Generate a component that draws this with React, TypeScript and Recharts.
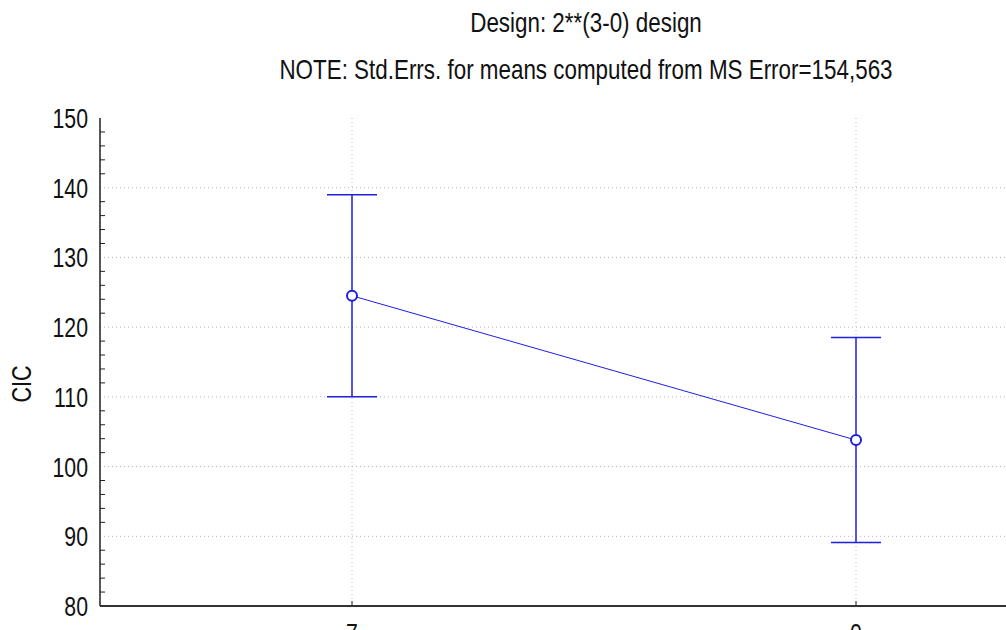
import { ComposedChart, Line, XAxis, YAxis, CartesianGrid, ErrorBar } from "recharts";

// factor levels and means
const LEVELS = ["7", "0"];
const MEANS = [124.5, 103.8];
const HALF_CI = [14.5, 14.7];
const Y_TICKS = [80, 82, 84, 86, 88, 90, 92, 94, 96, 98, 100, 102, 104, 106, 108, 110, 112, 114, 116, 118, 120, 122, 124, 126, 128, 130, 132, 134, 136, 138, 140, 142, 144, 146, 148, 150];
const Y_GRID = [90, 100, 110, 120, 130, 140];

const BLUE = "#1f1fe0";
const FONT = "'Liberation Sans', Arial, sans-serif";

const data = LEVELS.map((level, i) => ({
  level,
  mean: MEANS[i],
  err: HALF_CI[i],
}));

function YTick(props: any) {
  const { x, y, payload } = props;
  const major = payload.value % 10 === 0;
  return (
    <g>
      <line x1={x} x2={x + (major ? 0 : 5)} y1={y} y2={y} stroke="#222" strokeWidth={1} />
      {major && (
        <text
          transform={`translate(${x - 12},${y + 10}) scale(0.76,1)`}
          textAnchor="end"
          fontSize={28}
          fontFamily={FONT}
          fill="#111"
        >
          {payload.value}
        </text>
      )}
    </g>
  );
}

function XTick(props: any) {
  const { x, y, payload } = props;
  return (
    <g>
      <line x1={x} x2={x} y1={y} y2={y - 5} stroke="#222" strokeWidth={1} />
      <text
        transform={`translate(${x},${y + 37}) scale(0.76,1)`}
        textAnchor="middle"
        fontSize={28}
        fontFamily={FONT}
        fill="#111"
      >
        {payload.value}
      </text>
    </g>
  );
}

function TopTick(props: any) {
  const { x, y } = props;
  return <line x1={x} x2={x} y1={y} y2={y + 5} stroke="#222" strokeWidth={1} />;
}

export default function App() {
  return (
    <div
      style={{
        position: "absolute",
        left: 0,
        top: 0,
        width: 1006,
        height: 630,
        overflow: "hidden",
        background: "#fff",
      }}
    >
      <ComposedChart
        width={1110}
        height={660}
        data={data}
        margin={{ top: 118, right: 2, bottom: 14, left: 0 }}
      >
        <CartesianGrid
          stroke="#b4b4c8"
          strokeDasharray="1 3"
          horizontalValues={Y_GRID}
        />
        <XAxis
          dataKey="level"
          scale="band"
          height={40}
          axisLine={{ stroke: "#333", strokeWidth: 2 }}
          tickLine={false}
          tickSize={0}
          tickMargin={0}
          tick={<XTick />}
          interval={0}
        />
        <XAxis
          xAxisId="top"
          orientation="top"
          dataKey="level"
          scale="band"
          height={0}
          axisLine={{ stroke: "#333", strokeWidth: 2.5 }}
          tickLine={false}
          tickSize={0}
          tickMargin={0}
          tick={<TopTick />}
          interval={0}
        />
        <YAxis
          type="number"
          domain={[80, 150]}
          ticks={Y_TICKS}
          interval={0}
          width={100}
          axisLine={{ stroke: "#222", strokeWidth: 1.5 }}
          tickLine={false}
          tickSize={0}
          tickMargin={0}
          tick={<YTick />}
        />
        <Line
          dataKey="mean"
          stroke={BLUE}
          strokeWidth={1}
          dot={{ r: 5, fill: "#fff", stroke: BLUE, strokeWidth: 2 }}
          activeDot={false}
          isAnimationActive={false}
        >
          <ErrorBar dataKey="err" direction="y" width={25} stroke={BLUE} strokeWidth={1.5} />
        </Line>
      </ComposedChart>

      <div
        style={{
          position: "absolute",
          left: 0,
          top: -1,
          width: 1465,
          textAlign: "center",
          fontFamily: FONT,
          fontSize: 28,
          color: "#111",
          transform: "scaleX(0.8)",
          transformOrigin: "0 0",
          lineHeight: "47px",
          whiteSpace: "nowrap",
        }}
      >
        <div>Design: 2**(3-0) design</div>
        <div>NOTE: Std.Errs. for means computed from MS Error=154,563</div>
      </div>

      <div
        style={{
          position: "absolute",
          left: 22,
          top: 384,
          fontFamily: FONT,
          fontSize: 27,
          color: "#111",
          transform: "translate(-50%,-50%) rotate(-90deg) scaleX(0.8)",
          whiteSpace: "nowrap",
        }}
      >
        CIC
      </div>
    </div>
  );
}
